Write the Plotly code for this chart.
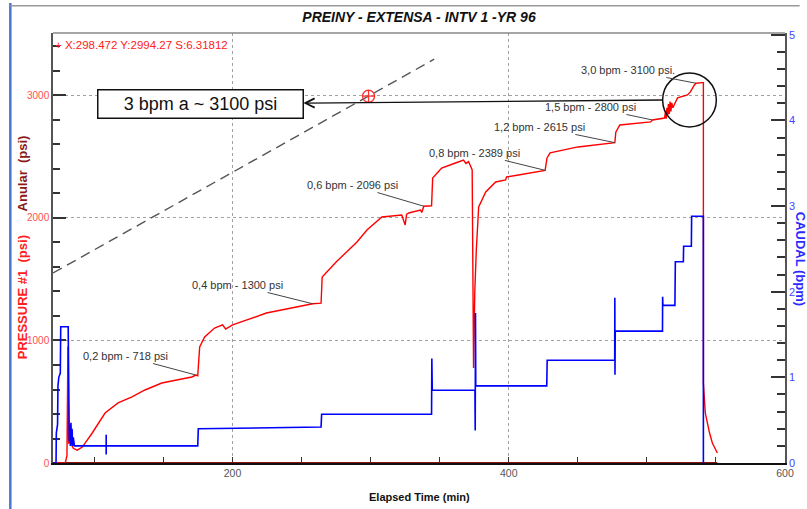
import plotly.graph_objects as go

# ---- Treating pressure, tubing side (psi) ----
pressure_time = [70, 78.9, 80.1, 80.8, 81.3, 82.5, 84.7, 87.6, 91.2, 98.4, 107.7, 117.1,
                 127.2, 136.6, 148.8, 160.4, 170.5, 173.5, 174.8, 176.2, 179.8, 187,
                 192.8, 195, 200, 224.5, 240, 258, 264.1, 264.9, 275, 290.1, 297.3,
                 308.1, 322.5, 325, 326, 327.6, 336, 337, 338.5, 344.1, 344.9, 351.4,
                 361.4, 367.2, 369, 370.8, 372, 373.5, 374.5, 375.4, 376.5, 377.4, 378.2,
                 383.3, 390.5, 397.7, 398.4, 407, 426.3, 427.7, 429.9, 450.1, 476.8,
                 477.5, 480.4, 502.7, 504, 512.8, 513.5, 514, 514.5, 515, 515.6, 516.2,
                 516.8, 517.4, 518, 518.8, 520, 522.2, 529.4, 531.5, 534.4, 535.5, 540.2,
                 540.9, 540.9, 542.3, 545.2, 547.4, 551]
pressure_psi = [0, 0, 60, 950, 160, 170, 120, 105, 130, 245, 408, 490,
                540, 596, 653, 678, 702, 718, 712, 947, 1029, 1102,
                1127, 1094, 1127, 1224, 1262, 1300, 1305, 1518, 1641, 1804, 1902,
                2008, 2024, 1943, 2030, 2041, 2065, 2045, 2096, 2100, 2327, 2408,
                2449, 2473, 2445, 2460, 2433, 2392, 775, 1400, 1739, 2008, 2090,
                2212, 2294, 2310, 2335, 2351, 2389, 2490, 2531, 2580, 2615,
                2700, 2759, 2784, 2800, 2816, 2870, 2810, 2900, 2830, 2930, 2850,
                2950, 2870, 2940, 2900, 2930, 2980, 3004, 3029, 3086, 3100, 3105,
                3105, 653, 408, 253, 163, 82]

# ---- Annulus pressure (psi) ----
anular_time = [70, 551]
anular_psi = [0, 0]

# ---- Pump rate (bpm) ----
flow_time = [70, 72.2, 72.4, 73.3, 73.6, 74.2, 75.3, 75.6, 81, 81.4, 81.8, 82.2, 82.6,
             83, 83.4, 83.8, 84.2, 84.7, 85.5, 108.5, 108.5, 108.5, 108.5, 174.8,
             175.2, 264.1, 264.5, 344.1, 344.3, 344.6, 375.5, 375.7, 375.9, 376.1,
             427.5, 427.8, 476.7, 476.8, 476.9, 477.1, 511.3, 511.4, 511.6, 520.3,
             520.6, 526.4, 526.6, 532.2, 532.4, 540.9, 540.9]
flow_bpm = [0, 0, 0.35, 0.45, 0.9, 1.0, 1.05, 1.59, 1.59, 0.5, 0.25, 0.45, 0.2,
            0.47, 0.22, 0.4, 0.2, 0.3, 0.2, 0.2, 0.33, 0.1, 0.2, 0.2,
            0.4, 0.42, 0.57, 0.57, 1.22, 0.85, 0.85, 0.38, 1.75, 0.9,
            0.9, 1.2, 1.2, 1.93, 1.03, 1.54, 1.54, 1.94, 1.84, 1.84,
            2.35, 2.35, 2.53, 2.53, 2.88, 2.88, 0]

# ---- Cursor readout and slope line ----
cursor_t, cursor_psi, cursor_slope = 298.472, 2994.27, 6.31812
trend_time = [70, 346]
trend_psi = [1551, 3296]

# ---- Step-rate labels: text, point on the curve, label centre ----
step_labels = ["0,2 bpm - 718 psi", "0,4 bpm - 1300 psi", "0,6 bpm - 2096 psi",
               "0,8 bpm - 2389 psi", "1,2 bpm - 2615 psi", "1,5 bpm - 2800 psi",
               "3,0 bpm - 3100 psi."]
step_time = [173.5, 258, 338.5, 426.3, 476.8, 504, 535.5]
step_psi = [718, 1300, 2096, 2389, 2615, 2800, 3100]
label_time = [122.2, 203.6, 286.5, 375.1, 422.0, 459.5, 486.1]
label_psi = [873, 1453, 2269, 2531, 2743, 2906, 3208]

SANS = "Liberation Sans, Arial, sans-serif"

fig = go.Figure()

fig.add_trace(go.Scatter(x=anular_time, y=anular_psi, mode="lines",
                         line=dict(color="#8b1010", width=2), name="Anular",
                         showlegend=False, hoverinfo="skip"))
fig.add_trace(go.Scatter(x=trend_time, y=trend_psi, mode="lines",
                         line=dict(color="#555555", width=1.4, dash="10px,6px"),
                         showlegend=False, hoverinfo="skip"))
fig.add_trace(go.Scatter(x=flow_time, y=flow_bpm, mode="lines", yaxis="y2",
                         line=dict(color="#0000ff", width=1.6), name="CAUDAL",
                         showlegend=False))
fig.add_trace(go.Scatter(x=pressure_time, y=pressure_psi, mode="lines",
                         line=dict(color="#ff0000", width=1.4), name="PRESSURE #1",
                         showlegend=False))
fig.add_trace(go.Scatter(x=[cursor_t], y=[cursor_psi], mode="markers",
                         marker=dict(symbol="circle-cross-open", size=12,
                                     color="#ff3030", line=dict(width=1.3)),
                         showlegend=False, hoverinfo="skip"))

annotations = []
for txt, t, p, lt, lp in zip(step_labels, step_time, step_psi, label_time, label_psi):
    annotations.append(dict(x=t, y=p, xref="x", yref="y", ax=lt, ay=lp,
                            axref="x", ayref="y", text=txt, showarrow=True,
                            arrowhead=0, arrowwidth=1, arrowcolor="#444444",
                            font=dict(family=SANS, size=11, color="#333333")))

# boxed note pointing back from the circled peak
annotations.append(dict(x=511.4, y=2963, xref="x", yref="y", ax=176.9, ay=2931,
                        axref="x", ayref="y", text="3 bpm a ~ 3100 psi",
                        showarrow=True, arrowside="start", startarrowhead=5,
                        startarrowsize=1.4, arrowwidth=1.3, arrowcolor="#111111",
                        font=dict(family=SANS, size=18, color="#111111"),
                        bordercolor="#111111", borderwidth=1.5, borderpad=2,
                        bgcolor="white", width=200, height=23))

annotations.append(dict(x=0.0, y=0.972, xref="paper", yref="paper", xanchor="left",
                        yanchor="middle", showarrow=False,
                        text=f"+ X:{cursor_t:.3f} Y:{cursor_psi:.2f} S:{cursor_slope:.5f}",
                        font=dict(family=SANS, size=11.5, color="#ff2020")))

annotations.append(dict(x=0.5, y=-0.079, xref="paper", yref="paper", showarrow=False,
                        xanchor="center", yanchor="middle",
                        text="<b>Elapsed Time (min)</b>",
                        font=dict(family=SANS, size=11, color="#111111")))
annotations.append(dict(x=-0.042, y=0.386, xref="paper", yref="paper", showarrow=False,
                        xanchor="center", yanchor="middle",
                        textangle=-90, text="<b>PRESSURE #1  (psi)</b>",
                        font=dict(family=SANS, size=13, color="#ff2020")))
annotations.append(dict(x=-0.042, y=0.674, xref="paper", yref="paper", showarrow=False,
                        xanchor="center", yanchor="middle",
                        textangle=-90, text="<b>Anular  (psi)</b>",
                        font=dict(family=SANS, size=13, color="#8b1a1a")))
annotations.append(dict(x=1.0205, y=0.475, xref="paper", yref="paper", showarrow=False,
                        xanchor="center", yanchor="middle",
                        textangle=90, text="<b>CAUDAL (bpm)</b>",
                        font=dict(family=SANS, size=13, color="#2a2aff")))

shapes = [
    # circled peak
    dict(type="circle", xref="x", yref="y", x0=511.4, x1=550.3, y0=2743, y1=3184,
         line=dict(color="#111111", width=1.5)),
    # top frame of the plot
    dict(type="line", xref="paper", yref="paper", x0=0, x1=1, y0=1, y1=1,
         line=dict(color="#888888", width=1.5)),
    # window frame
    dict(type="line", xref="paper", yref="paper", x0=-0.0583, x1=-0.0583, y0=-0.2, y1=1.07,
         line=dict(color="#4a78d0", width=2.5)),
    dict(type="line", xref="paper", yref="paper", x0=-0.0583, x1=1.02, y0=1.0635, y1=1.0635,
         line=dict(color="#9a9a9a", width=1.5)),
]

fig.update_layout(
    width=807, height=509,
    margin=dict(l=53, r=17, t=33, b=46),
    paper_bgcolor="white", plot_bgcolor="white",
    title=dict(text="<b><i>PREINY - EXTENSA - INTV 1 -YR 96</i></b>",
               x=0.5, xref="paper", y=0.966, yanchor="middle",
               font=dict(family=SANS, size=14, color="#111111")),
    xaxis=dict(range=[70, 600], tickvals=[200, 400, 600], ticks="inside", ticklen=6,
               tickcolor="#333333", showline=True, linecolor="#111111", linewidth=1.5,
               showgrid=True, gridcolor="#a0a0a0", griddash="dot", gridwidth=1,
               zeroline=False, layer="below traces",
               minor=dict(dtick=50, tick0=0, ticks="inside", ticklen=6, tickcolor="#333333",
                          showgrid=False),
               tickfont=dict(family=SANS, size=10.5, color="#555555")),
    yaxis=dict(range=[0, 3510], tickvals=[0, 1000, 2000, 3000], ticks="inside",
               ticklen=13, tickwidth=1.5, tickcolor="#333333", showline=True,
               linecolor="#555555", linewidth=1.5, showgrid=True, gridcolor="#a0a0a0",
               griddash="dot", gridwidth=1, zeroline=False, layer="below traces",
               minor=dict(dtick=200, tick0=0, ticks="inside", ticklen=7,
                          tickcolor="#333333", showgrid=False),
               tickfont=dict(family=SANS, size=10, color="#ff5050")),
    yaxis2=dict(range=[0, 5.02], overlaying="y", side="right", tickvals=[0, 1, 2, 3, 4, 5],
                ticks="inside", ticklen=14, tickwidth=1.5, tickcolor="#333333",
                showline=True, linecolor="#555555", linewidth=1.5, showgrid=False,
                zeroline=False, layer="below traces",
                minor=dict(dtick=0.2, tick0=0, ticks="inside", ticklen=8,
                           tickcolor="#333333"),
                tickfont=dict(family=SANS, size=11, color="#4444ff")),
    annotations=annotations,
    shapes=shapes,
    showlegend=False,
)

fig.write_html("out.html")
